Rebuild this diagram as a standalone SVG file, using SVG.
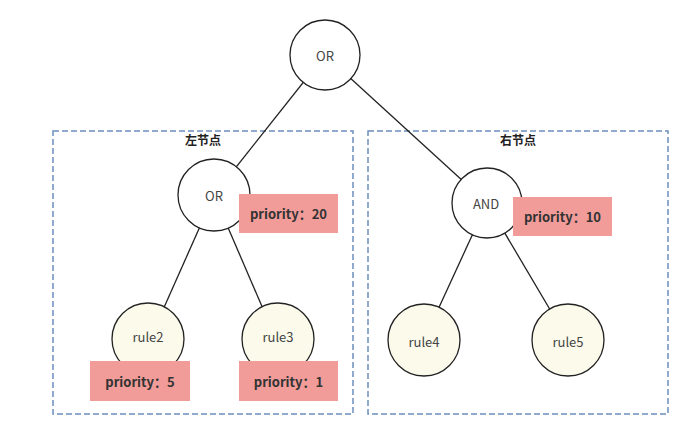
<svg xmlns="http://www.w3.org/2000/svg" width="694" height="431" viewBox="0 0 694 431">
<style>
.grp{fill:none;stroke:#6c8ebf;stroke-width:1.5;stroke-dasharray:6 3}
.c{stroke:#222;stroke-width:1.3}
.op{fill:#fff;stroke:#222;stroke-width:1.3}
.rule{fill:#fbfaeb;stroke:#222;stroke-width:1.3}
.pri{fill:#f19c99;stroke:none}
.t{font-family:"Noto Sans CJK SC","Noto Sans",sans-serif;font-size:13px;fill:#444;text-anchor:middle;dominant-baseline:central}
.pt{font-family:"Noto Sans CJK SC","Noto Sans",sans-serif;font-size:13px;font-weight:bold;fill:#333;text-anchor:middle;dominant-baseline:central}
.lb{font-family:"Noto Sans CJK SC",sans-serif;font-size:12px;font-weight:bold;fill:#222;text-anchor:middle;dominant-baseline:central}
</style>
<rect width="694" height="431" fill="#fff"/>
<g id="group-left"><rect class="grp" x="53" y="131" width="300" height="283"/><text class="lb" x="203" y="139">左节点</text></g>
<g id="group-right"><rect class="grp" x="368" y="131" width="300" height="283"/><text class="lb" x="518" y="139">右节点</text></g>
<g id="connectors">
<line class="c" x1="325" y1="55" x2="214" y2="195"/>
<line class="c" x1="325" y1="55" x2="487" y2="203"/>
<line class="c" x1="214" y1="195" x2="150" y2="339"/>
<line class="c" x1="214" y1="195" x2="276" y2="339"/>
<line class="c" x1="487" y1="203" x2="424" y2="340"/>
<line class="c" x1="487" y1="203" x2="568" y2="340"/>
</g>
<g id="root-or"><circle class="op" cx="325" cy="55" r="35"/><text class="t" x="325" y="55">OR</text></g>
<g id="left-or"><circle class="op" cx="214" cy="195" r="36"/><text class="t" x="214" y="195">OR</text></g>
<g id="left-or-priority"><rect class="pri" x="239" y="194" width="99" height="39"/><text class="pt" x="288.5" y="213.5">priority：20</text></g>
<g id="right-and"><circle class="op" cx="487" cy="203" r="35"/><text class="t" x="486" y="203">AND</text></g>
<g id="right-and-priority"><rect class="pri" x="513" y="197" width="99" height="39"/><text class="pt" x="562.5" y="216.5">priority：10</text></g>
<g id="rule2"><circle class="rule" cx="148" cy="339" r="36"/><text class="t" x="148" y="336">rule2</text></g>
<g id="rule2-priority"><rect class="pri" x="90" y="361" width="100" height="40"/><text class="pt" x="140" y="381">priority：5</text></g>
<g id="rule3"><circle class="rule" cx="278" cy="339" r="36"/><text class="t" x="278" y="336">rule3</text></g>
<g id="rule3-priority"><rect class="pri" x="239" y="361" width="99" height="40"/><text class="pt" x="288.5" y="381">priority：1</text></g>
<g id="rule4"><circle class="rule" cx="424" cy="340" r="36"/><text class="t" x="424" y="341">rule4</text></g>
<g id="rule5"><circle class="rule" cx="568" cy="340" r="36"/><text class="t" x="568" y="341">rule5</text></g>
</svg>
